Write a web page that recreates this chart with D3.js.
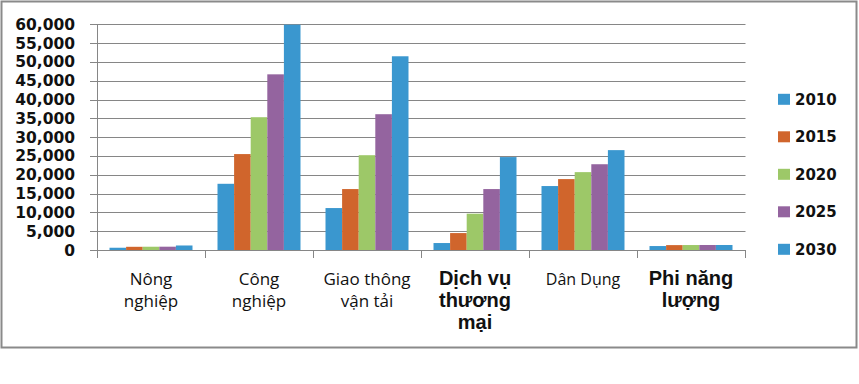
<!DOCTYPE html>
<html>
<head>
<meta charset="utf-8">
<script src="https://cdn.jsdelivr.net/npm/d3@7"></script>
<style>
  body { margin: 0; background: #fff; }
</style>
</head>
<body>
<script>
// data
var categories = ["Nông nghiệp", "Công nghiệp", "Giao thông vận tải", "Dịch vụ thương mại", "Dân Dụng", "Phi năng lượng"];
var years = ["2010", "2015", "2020", "2025", "2030"];
var v2010 = [600, 17600, 11150, 1850, 17000, 1050];
var v2015 = [850, 25500, 16200, 4500, 18850, 1300];
var v2020 = [870, 35300, 25200, 9650, 20700, 1320];
var v2025 = [880, 46700, 36100, 16200, 22800, 1330];
var v2030 = [1200, 59900, 51500, 24700, 26550, 1330];
var yTicks = [0, 5000, 10000, 15000, 20000, 25000, 30000, 35000, 40000, 45000, 50000, 55000, 60000];
var colors = ["#3a97cf", "#d0652c", "#9dc868", "#94649f", "#3a97cf"];

// label lines and fonts, as in the picture
var labelLines = [["Nông", "nghiệp"], ["Công", "nghiệp"], ["Giao thông", "vận tải"], ["Dịch vụ", "thương", "mại"], ["Dân Dụng"], ["Phi năng", "lượng"]];
var labelStyle = [
  {f: "Open Sans", s: 17, w: "normal"}, {f: "Open Sans", s: 17, w: "normal"}, {f: "Open Sans", s: 17, w: "normal"},
  {f: "Liberation Sans", s: 20, w: "bold"}, {f: "Open Sans", s: 16, w: "normal"}, {f: "Liberation Sans", s: 20, w: "bold"}
];

var series = [v2010, v2015, v2020, v2025, v2030];

var width = 859, height = 384;
var svg = d3.select("body").append("svg").attr("width", width).attr("height", height);

// outer frame
svg.append("rect").attr("x", 1.5).attr("y", 1.5).attr("width", 855).attr("height", 346)
  .attr("fill", "#fff").attr("stroke", "#8a8a8a").attr("stroke-width", 2);

var x = d3.scaleBand().domain(categories).range([97, 745]);
var xi = d3.scaleBand().domain(years).range([12.5, x.bandwidth() - 12.5]);
var y = d3.scaleLinear().domain([0, 60000]).range([250, 24.3]);

// gridlines + y ticks
var grid = svg.append("g");
grid.selectAll("line").data(yTicks).enter().append("line")
  .attr("x1", 90).attr("x2", 745.5)
  .attr("y1", function(d){ return Math.round(y(d)) + 0.5; })
  .attr("y2", function(d){ return Math.round(y(d)) + 0.5; })
  .attr("stroke", "#868686").attr("stroke-width", 1);

svg.append("line").attr("x1", 97.5).attr("x2", 97.5).attr("y1", Math.round(y(60000)) + 0.5).attr("y2", 250.5)
  .attr("stroke", "#868686");

svg.append("g").selectAll("text").data(yTicks).enter().append("text")
  .attr("x", 75).attr("y", function(d){ return y(d) + 5.5; })
  .attr("text-anchor", "end")
  .style("font-family", "DejaVu Sans").style("font-weight", "bold").style("font-size", "15.5px")
  .attr("fill", "#111")
  .text(function(d){ return d3.format(",")(d); });

// bars
var groups = svg.append("g").selectAll("g").data(categories).enter().append("g")
  .attr("transform", function(d){ return "translate(" + x(d) + ",0)"; });

groups.selectAll("rect").data(function(d, i){
    return years.map(function(yr, j){ return {year: yr, value: series[j][i], k: j}; });
  }).enter().append("rect")
  .attr("x", function(d){ return xi(d.year); })
  .attr("width", xi.bandwidth())
  .attr("y", function(d){ return y(d.value); })
  .attr("height", function(d){ return y(0) - y(d.value); })
  .attr("fill", function(d){ return colors[d.k]; });

// x-axis line and category ticks
svg.append("line").attr("x1", 90).attr("x2", 745.5).attr("y1", 250.5).attr("y2", 250.5).attr("stroke", "#868686");
svg.append("g").selectAll("line").data(categories.concat(["end"])).enter().append("line")
  .attr("x1", function(d, i){ return 97.5 + i * x.bandwidth(); })
  .attr("x2", function(d, i){ return 97.5 + i * x.bandwidth(); })
  .attr("y1", 250).attr("y2", 258)
  .attr("stroke", "#868686");

// category labels
categories.forEach(function(c, i){
  var st = labelStyle[i];
  var t = svg.append("text")
    .attr("x", x(c) + x.bandwidth() / 2)
    .attr("y", 285)
    .attr("text-anchor", "middle")
    .style("font-family", st.f).style("font-weight", st.w).style("font-size", st.s + "px")
    .attr("fill", "#111");
  labelLines[i].forEach(function(line, k){
    t.append("tspan").attr("x", x(c) + x.bandwidth() / 2).attr("y", 285 + k * 22).text(line);
  });
});

// legend
var legend = svg.append("g").selectAll("g").data(years).enter().append("g")
  .attr("transform", function(d, i){ return "translate(778," + (99.3 + i * 37.5) + ")"; });
legend.append("rect").attr("x", 0).attr("y", -5.5).attr("width", 12).attr("height", 11)
  .attr("fill", function(d, i){ return colors[i]; });
legend.append("text").attr("x", 17).attr("y", 5.5)
  .style("font-family", "DejaVu Sans").style("font-weight", "bold").style("font-size", "15px")
  .attr("fill", "#111")
  .text(function(d){ return d; });
</script>
</body>
</html>
